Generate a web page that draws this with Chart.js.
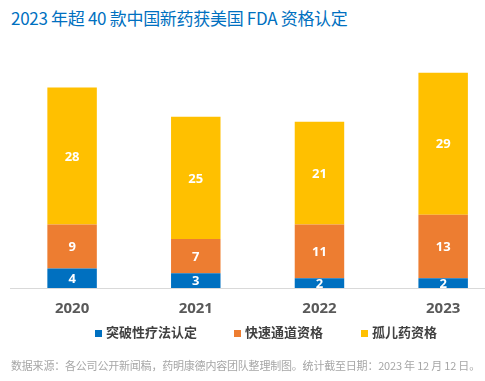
<!DOCTYPE html>
<html>
<head>
<meta charset="utf-8">
<script src="https://cdn.jsdelivr.net/npm/chart.js@4/dist/chart.umd.min.js"></script>
<style>
  html, body { margin:0; padding:0; width:485px; height:381px; overflow:hidden; background:#fff; }
  body { position:relative; font-family:"Noto Sans CJK SC", "Noto Sans", sans-serif; }
  #title { position:absolute; left:11px; top:5px; font-size:17px; color:#0070c0; white-space:nowrap; letter-spacing:-0.3px; }
  #wrap { position:absolute; left:0; top:0; width:505px; height:340px; }
  #legend { position:absolute; top:322px; left:95px; height:20px; white-space:nowrap; font-size:13px; font-weight:bold; color:#404040; }
  #legend span.item { position:absolute; top:0; line-height:20px; }
  #legend i { display:inline-block; width:7px; height:7px; margin-right:4px; vertical-align:0px; }
  #foot { position:absolute; left:11px; top:357px; font-size:11px; color:#a6a6a6; white-space:nowrap; letter-spacing:-0.2px; }
</style>
</head>
<body>
<div id="title">2023 年超 40 款中国新药获美国 FDA 资格认定</div>
<div id="wrap"><canvas id="c"></canvas></div>
<div id="legend"></div>
<div id="foot">数据来源：各公司公开新闻稿，药明康德内容团队整理制图。统计截至日期：2023 年 12 月 12 日。</div>
<script>
const categories = ["2020", "2021", "2022", "2023"];
const seriesNames = ["突破性疗法认定", "快速通道资格", "孤儿药资格"];
const breakthrough = [4, 3, 2, 2];
const fastTrack = [9, 7, 11, 13];
const orphan = [28, 25, 21, 29];
const colors = ["#0070c0", "#ed7d31", "#ffc000"];

const legendEl = document.getElementById('legend');
const legendX = [0, 139, 266];
seriesNames.forEach((n, i) => {
  const s = document.createElement('span');
  s.className = 'item';
  s.style.left = legendX[i] + 'px';
  s.innerHTML = '<i style="background:' + colors[i] + '"></i>' + n;
  legendEl.appendChild(s);
});

const labelPlugin = {
  id: 'segLabels',
  afterDatasetsDraw(chart) {
    const ctx = chart.ctx;
    ctx.save();
    ctx.fillStyle = '#ffffff';
    ctx.font = 'bold 13px "Open Sans", "Liberation Sans", sans-serif';
    ctx.textAlign = 'center';
    ctx.textBaseline = 'middle';
    chart.data.datasets.forEach((ds, di) => {
      const meta = chart.getDatasetMeta(di);
      meta.data.forEach((bar, i) => {
        const v = ds.data[i];
        const cy = (bar.y + bar.base) / 2;
        ctx.fillText(String(v), bar.x, cy + 1);
      });
    });
    ctx.restore();
  }
};

new Chart(document.getElementById('c'), {
  type: 'bar',
  data: {
    labels: categories,
    datasets: [
      { label: seriesNames[0], data: breakthrough, backgroundColor: colors[0] },
      { label: seriesNames[1], data: fastTrack, backgroundColor: colors[1] },
      { label: seriesNames[2], data: orphan, backgroundColor: colors[2] }
    ]
  },
  options: {
    responsive: true,
    maintainAspectRatio: false,
    animation: false,
    layout: { padding: { left: 10.25, right: 0, top: 43.5, bottom: 0 } },
    datasets: { bar: { categoryPercentage: 0.8, barPercentage: 0.5 } },
    plugins: { legend: { display: false }, tooltip: { enabled: false } },
    scales: {
      x: {
        stacked: true,
        grid: { display: false, drawTicks: false },
        border: { display: true, color: '#d9d9d9', width: 1 },
        ticks: { color: '#595959', font: { size: 15, weight: 'bold', family: '"Open Sans", "Liberation Sans", sans-serif' }, padding: 12 },
        afterFit(scale) { scale.height = 52; }
      },
      y: {
        stacked: true,
        display: false,
        min: 0,
        max: 50
      }
    }
  },
  plugins: [labelPlugin]
});
</script>
</body>
</html>
